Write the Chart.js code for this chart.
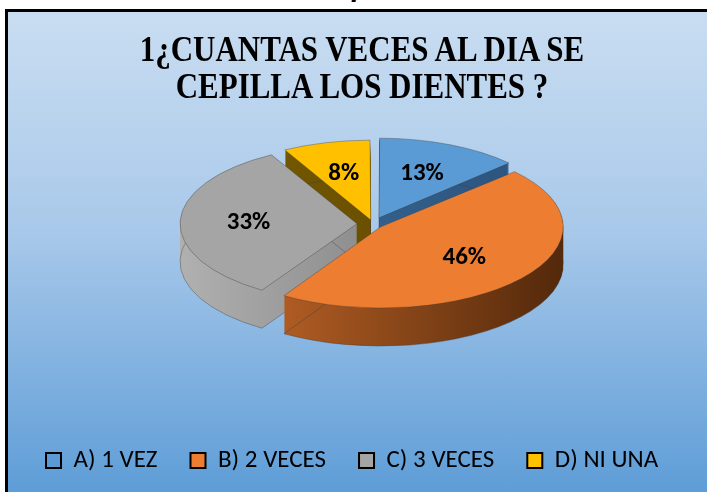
<!DOCTYPE html>
<html>
<head>
<meta charset="utf-8">
<script src="https://cdn.jsdelivr.net/npm/chart.js@4"></script>
<style>
  html, body { margin: 0; padding: 0; background: #fff; }
  body { width: 707px; height: 492px; position: relative; overflow: hidden; }
  #caption {
    position: absolute; left: 0; width: 724px; top: -29px; text-align: center;
    font-family: "Liberation Serif", "Times New Roman", serif;
    font-style: italic; font-weight: bold; font-size: 30px; color: #000; line-height: 30px;
  }
  #frame {
    position: absolute; left: 5px; top: 9px; width: 699px; height: 480px;
    border-top: 3px solid #000; border-left: 3px solid #000;
    background: linear-gradient(#c9ddf1 0%, #a9c9ea 45%, #5e9dd7 100%);
  }
  #title {
    position: absolute; left: 0; width: 724px; top: 31px; text-align: center;
    font-family: "Liberation Serif", "Times New Roman", serif;
    font-weight: bold; font-size: 36px; line-height: 37px; color: #000;
    transform: scaleX(0.86); transform-origin: 362px 0;
  }
  #wrap { position: absolute; left: 8px; top: 12px; width: 699px; height: 480px; }
</style>
</head>
<body>
<div id="caption">Gráfico 1</div>
<div id="frame"></div>
<div id="wrap"><canvas id="pieChart"></canvas></div>
<div id="title">1¿CUANTAS VECES AL DIA SE<br>CEPILLA LOS DIENTES ?</div>
<script>
/* -------------------------------
   Data
--------------------------------*/
const categories = ["A) 1 VEZ", "B) 2 VECES", "C) 3 VECES", "D) NI UNA"];
const percentages = [13, 46, 33, 8];
const sliceColors = ["#5b9bd5", "#ed7d31", "#a5a5a5", "#ffc000"];
const sideColors = [
  ["#3a6c9a", "#2a527c"],
  ["#c96a2a", "#552a0b"],
  ["#b0b0b0", "#6e6e6e"],
  ["#7a5c00", "#5a4400"]
];
const explode = [60, 40, 64, 36];

/* -------------------------------
   Fake 3D: tilt + extrusion
--------------------------------*/
const tilt = 0.445;
const depth = 38;
const center = { x: 365, y: 212 };

function midAngle(arc) {
  return (arc.startAngle + arc.endAngle) / 2;
}

const pie3d = {
  id: "pie3d",
  beforeDatasetsDraw(chart) {
    const ctx = chart.ctx;
    const arcs = chart.getDatasetMeta(0).data;
    ctx.save();
    ctx.translate(center.x, center.y);
    ctx.scale(1, tilt);
    ctx.translate(-arcs[0].x, -arcs[0].y);

    // back slices first so front walls cover them
    const order = arcs.map((a, i) => i)
      .sort((i, j) => Math.sin(midAngle(arcs[i])) - Math.sin(midAngle(arcs[j])));

    order.forEach(i => {
      const arc = arcs[i];
      const orig = arc.options;
      const R = arc.outerRadius;
      const grad = ctx.createLinearGradient(arc.x - R, 0, arc.x + R, 0);
      grad.addColorStop(0, sideColors[i][0]);
      grad.addColorStop(1, sideColors[i][1]);
      arc.options = Object.assign({}, orig, { backgroundColor: grad, borderWidth: 0 });
      for (let d = depth; d >= 1; d--) {
        ctx.save();
        ctx.translate(0, d / tilt);
        arc.draw(ctx);
        ctx.restore();
      }
      // outline of the bottom edge
      arc.options = Object.assign({}, orig, { backgroundColor: "rgba(0,0,0,0)" });
      ctx.save();
      ctx.translate(0, depth / tilt);
      arc.draw(ctx);
      ctx.restore();
      arc.options = orig;
    });
  },
  afterDatasetsDraw(chart) {
    const ctx = chart.ctx;
    ctx.restore();
    const arcs = chart.getDatasetMeta(0).data;
    ctx.save();
    ctx.font = "bold 25px Carlito, Lato, sans-serif";
    ctx.fillStyle = "#000";
    ctx.textAlign = "center";
    ctx.textBaseline = "middle";
    arcs.forEach((arc, i) => {
      const a = midAngle(arc);
      const r = arc.outerRadius * 0.62 + (arc.options.offset || 0) / 4;
      const x = center.x + Math.cos(a) * r;
      const y = center.y + Math.sin(a) * r * tilt;
      ctx.fillText(percentages[i] + "%", x, y);
    });
    ctx.restore();
  }
};

/* -------------------------------
   Chart
--------------------------------*/
document.addEventListener("DOMContentLoaded", () => {
  const ctx = document.getElementById("pieChart");

  new Chart(ctx, {
    type: "pie",
    data: {
      labels: categories,
      datasets: [
        {
          data: percentages,
          backgroundColor: sliceColors,
          borderColor: "rgba(60,60,60,0.55)",
          borderWidth: 1,
          offset: explode,
          clip: false
        }
      ]
    },
    options: {
      responsive: true,
      maintainAspectRatio: false,
      animation: false,
      events: [],
      radius: 175,
      layout: { padding: { left: 5, bottom: 9 } },
      plugins: {
        title: { display: false },
        tooltip: { enabled: false },
        legend: {
          position: "bottom",
          align: "start",
          labels: {
            boxWidth: 15,
            boxHeight: 15,
            padding: 33,
            color: "#000",
            font: { family: "Carlito", size: 25 },
            generateLabels: chart =>
              Chart.overrides.pie.plugins.legend.labels.generateLabels(chart).map(item => ({
                ...item,
                strokeStyle: "#000",
                lineWidth: 2
              }))
          }
        }
      }
    },
    plugins: [pie3d]
  });
});
</script>
</body>
</html>
